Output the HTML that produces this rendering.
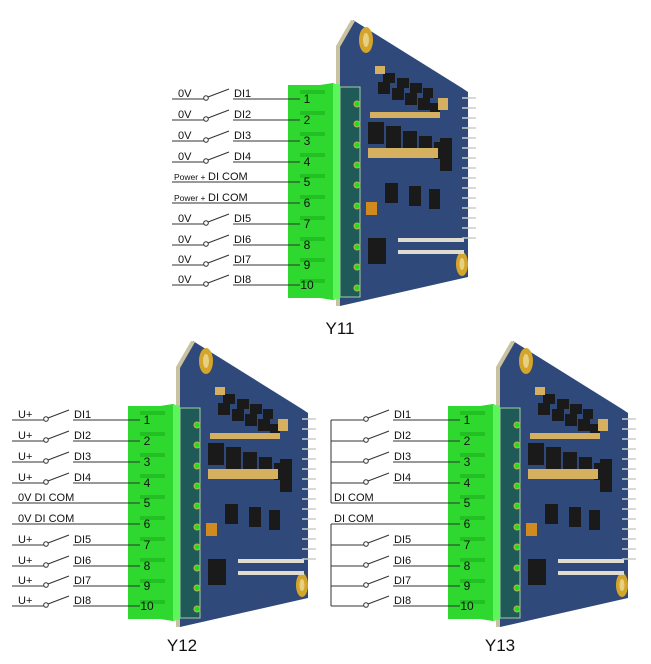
<!DOCTYPE html>
<html><head><meta charset="utf-8"><style>
html,body{margin:0;padding:0;background:#fff;}
svg{display:block;}
text{font-family:"Liberation Sans",sans-serif;fill:#111;}
</style></head><body>
<svg width="651" height="664" viewBox="0 0 651 664" xmlns="http://www.w3.org/2000/svg">
<defs>
<g id="board">
  <polygon points="338,45 353,20 462,88 468,92 468,277 340,306" fill="#2f4a7a"/>
  <polygon points="336,46 351,20 355,21 340,47 340,306 336,306" fill="#c9c2a0"/>
  <ellipse cx="366" cy="40" rx="7" ry="13" fill="#d4a52a"/><ellipse cx="366" cy="40" rx="3" ry="7" fill="#e8d080"/>
  <ellipse cx="462" cy="264" rx="6" ry="12" fill="#d4a52a"/><ellipse cx="462" cy="264" rx="2.5" ry="6" fill="#e8d080"/>
  <g fill="#1a1a1a">
    <rect x="383" y="73" width="12" height="10"/><rect x="397" y="78" width="12" height="10"/><rect x="410" y="83" width="12" height="10"/><rect x="423" y="88" width="10" height="10"/>
    <rect x="378" y="82" width="12" height="12"/><rect x="392" y="88" width="12" height="12"/><rect x="405" y="93" width="12" height="12"/><rect x="418" y="98" width="12" height="12"/><rect x="430" y="103" width="10" height="10"/>
    <rect x="368" y="122" width="16" height="22"/><rect x="386" y="126" width="15" height="22"/><rect x="403" y="131" width="14" height="21"/><rect x="419" y="136" width="13" height="20"/><rect x="434" y="142" width="8" height="17"/>
    <rect x="440" y="138" width="12" height="33"/>
    <rect x="385" y="183" width="13" height="20"/><rect x="409" y="186" width="12" height="20"/><rect x="429" y="189" width="11" height="20"/>
    <rect x="368" y="238" width="18" height="26"/>
  </g>
  <g fill="#d4b060">
    <rect x="370" y="112" width="70" height="6"/><rect x="368" y="148" width="70" height="10"/><rect x="375" y="66" width="10" height="8"/><rect x="438" y="98" width="10" height="12"/>
  </g>
  <rect x="366" y="202" width="11" height="13" fill="#d08a20"/>
  <g fill="#e0ddd0">
    <rect x="398" y="238" width="66" height="4"/><rect x="398" y="250" width="66" height="4"/>
  </g>
  <g stroke="#ccc" stroke-width="1.5">
    <line x1="462" y1="98" x2="476" y2="98"/><line x1="462" y1="108" x2="476" y2="108"/><line x1="462" y1="118" x2="476" y2="118"/><line x1="462" y1="128" x2="476" y2="128"/><line x1="462" y1="138" x2="476" y2="138"/><line x1="462" y1="148" x2="476" y2="148"/><line x1="462" y1="158" x2="476" y2="158"/><line x1="462" y1="168" x2="476" y2="168"/><line x1="462" y1="178" x2="476" y2="178"/><line x1="462" y1="188" x2="476" y2="188"/><line x1="462" y1="198" x2="476" y2="198"/><line x1="462" y1="208" x2="476" y2="208"/><line x1="462" y1="218" x2="476" y2="218"/><line x1="462" y1="228" x2="476" y2="228"/><line x1="462" y1="238" x2="476" y2="238"/>
  </g>
  <rect x="340" y="87" width="20" height="210" fill="#1f5a58" stroke="#9fd0a0" stroke-width="1"/>
  <polygon points="288,85 320,85 333,83 340,86 340,298 333,300 320,298 288,298" fill="#2ed82e"/>
  <rect x="333" y="84" width="7" height="215" fill="#5cf55c"/>
  <g fill="#22c022">
    <rect x="300" y="90" width="25" height="4"/><rect x="300" y="111" width="25" height="4"/><rect x="300" y="132" width="25" height="4"/><rect x="300" y="153" width="25" height="4"/><rect x="300" y="174" width="25" height="4"/><rect x="300" y="195" width="25" height="4"/><rect x="300" y="216" width="25" height="4"/><rect x="300" y="237" width="25" height="4"/><rect x="300" y="258" width="25" height="4"/><rect x="300" y="279" width="25" height="4"/>
  </g>
  <g fill="#22dd22" stroke="#c9b050" stroke-width="1">
    <circle cx="357" cy="104" r="3"/><circle cx="357" cy="124" r="3"/><circle cx="357" cy="145" r="3"/><circle cx="357" cy="165" r="3"/><circle cx="357" cy="185" r="3"/><circle cx="357" cy="206" r="3"/><circle cx="357" cy="226" r="3"/><circle cx="357" cy="247" r="3"/><circle cx="357" cy="267" r="3"/><circle cx="357" cy="288" r="3"/>
  </g>
  <g font-size="12" text-anchor="middle" style="font-family:'Liberation Sans',sans-serif">
    <text x="307" y="103">1</text><text x="307" y="124">2</text><text x="307" y="145">3</text><text x="307" y="166">4</text><text x="307" y="186">5</text><text x="307" y="207">6</text><text x="307" y="228">7</text><text x="307" y="249">8</text><text x="307" y="269">9</text><text x="307" y="289">10</text>
  </g>
</g>
<g id="sw" stroke="#333" stroke-width="1" fill="none">
  <line x1="233" y1="0" x2="300" y2="0"/>
  <circle cx="206" cy="-1" r="2.3" fill="#fff"/>
  <line x1="208" y1="-2" x2="229" y2="-10"/>
</g>
</defs>

<!-- generic wiring per module, rows: 99,120,141,162,182,203,224,245,265,285 -->
<!-- Y11 -->
<use href="#board"/>
<g stroke="#333" stroke-width="1">
  <line x1="172" y1="99" x2="204" y2="99"/><line x1="172" y1="120" x2="204" y2="120"/><line x1="172" y1="141" x2="204" y2="141"/><line x1="172" y1="162" x2="204" y2="162"/>
  <line x1="172" y1="182" x2="300" y2="182"/><line x1="172" y1="203" x2="300" y2="203"/>
  <line x1="172" y1="224" x2="204" y2="224"/><line x1="172" y1="245" x2="204" y2="245"/><line x1="172" y1="265" x2="204" y2="265"/><line x1="172" y1="285" x2="204" y2="285"/>
</g>
<use href="#sw" y="99"/><use href="#sw" y="120"/><use href="#sw" y="141"/><use href="#sw" y="162"/><use href="#sw" y="224"/><use href="#sw" y="245"/><use href="#sw" y="265"/><use href="#sw" y="285"/>
<g font-size="11">
  <text x="178" y="97">0V</text><text x="178" y="118">0V</text><text x="178" y="139">0V</text><text x="178" y="160">0V</text>
  <text x="178" y="222">0V</text><text x="178" y="243">0V</text><text x="178" y="263">0V</text><text x="178" y="283">0V</text>
  <text x="234" y="97">DI1</text><text x="234" y="118">DI2</text><text x="234" y="139">DI3</text><text x="234" y="160">DI4</text>
  <text x="234" y="222">DI5</text><text x="234" y="243">DI6</text><text x="234" y="263">DI7</text><text x="234" y="283">DI8</text>
  <text x="174" y="180" font-size="8.5">Power +</text><text x="208" y="180">DI COM</text>
  <text x="174" y="201" font-size="8.5">Power +</text><text x="208" y="201">DI COM</text>
</g>
<text x="340" y="334" font-size="17" text-anchor="middle">Y11</text>

<!-- Y12 -->
<g transform="translate(-160,321)">
<use href="#board"/>
<g stroke="#333" stroke-width="1">
  <line x1="172" y1="99" x2="204" y2="99"/><line x1="172" y1="120" x2="204" y2="120"/><line x1="172" y1="141" x2="204" y2="141"/><line x1="172" y1="162" x2="204" y2="162"/>
  <line x1="172" y1="182" x2="300" y2="182"/><line x1="172" y1="203" x2="300" y2="203"/>
  <line x1="172" y1="224" x2="204" y2="224"/><line x1="172" y1="245" x2="204" y2="245"/><line x1="172" y1="265" x2="204" y2="265"/><line x1="172" y1="285" x2="204" y2="285"/>
</g>
<use href="#sw" y="99"/><use href="#sw" y="120"/><use href="#sw" y="141"/><use href="#sw" y="162"/><use href="#sw" y="224"/><use href="#sw" y="245"/><use href="#sw" y="265"/><use href="#sw" y="285"/>
<g font-size="11">
  <text x="178" y="97">U+</text><text x="178" y="118">U+</text><text x="178" y="139">U+</text><text x="178" y="160">U+</text>
  <text x="178" y="222">U+</text><text x="178" y="243">U+</text><text x="178" y="263">U+</text><text x="178" y="283">U+</text>
  <text x="234" y="97">DI1</text><text x="234" y="118">DI2</text><text x="234" y="139">DI3</text><text x="234" y="160">DI4</text>
  <text x="234" y="222">DI5</text><text x="234" y="243">DI6</text><text x="234" y="263">DI7</text><text x="234" y="283">DI8</text>
  <text x="178" y="180">0V DI COM</text><text x="178" y="201">0V DI COM</text>
</g>
<text x="342" y="330" font-size="17" text-anchor="middle">Y12</text>
</g>

<!-- Y13 -->
<g transform="translate(160,321)">
<use href="#board"/>
<g stroke="#333" stroke-width="1">
  <line x1="171" y1="99" x2="171" y2="182"/><line x1="171" y1="203" x2="171" y2="285"/>
  <line x1="171" y1="99" x2="204" y2="99"/><line x1="171" y1="120" x2="204" y2="120"/><line x1="171" y1="141" x2="204" y2="141"/><line x1="171" y1="162" x2="204" y2="162"/>
  <line x1="171" y1="182" x2="300" y2="182"/><line x1="171" y1="203" x2="300" y2="203"/>
  <line x1="171" y1="224" x2="204" y2="224"/><line x1="171" y1="245" x2="204" y2="245"/><line x1="171" y1="265" x2="204" y2="265"/><line x1="171" y1="285" x2="204" y2="285"/>
</g>
<use href="#sw" y="99"/><use href="#sw" y="120"/><use href="#sw" y="141"/><use href="#sw" y="162"/><use href="#sw" y="224"/><use href="#sw" y="245"/><use href="#sw" y="265"/><use href="#sw" y="285"/>
<g font-size="11">
  <text x="234" y="97">DI1</text><text x="234" y="118">DI2</text><text x="234" y="139">DI3</text><text x="234" y="160">DI4</text>
  <text x="234" y="222">DI5</text><text x="234" y="243">DI6</text><text x="234" y="263">DI7</text><text x="234" y="283">DI8</text>
  <text x="174" y="180">DI COM</text><text x="174" y="201">DI COM</text>
</g>
<text x="340" y="330" font-size="17" text-anchor="middle">Y13</text>
</g>
</svg>
</body></html>
